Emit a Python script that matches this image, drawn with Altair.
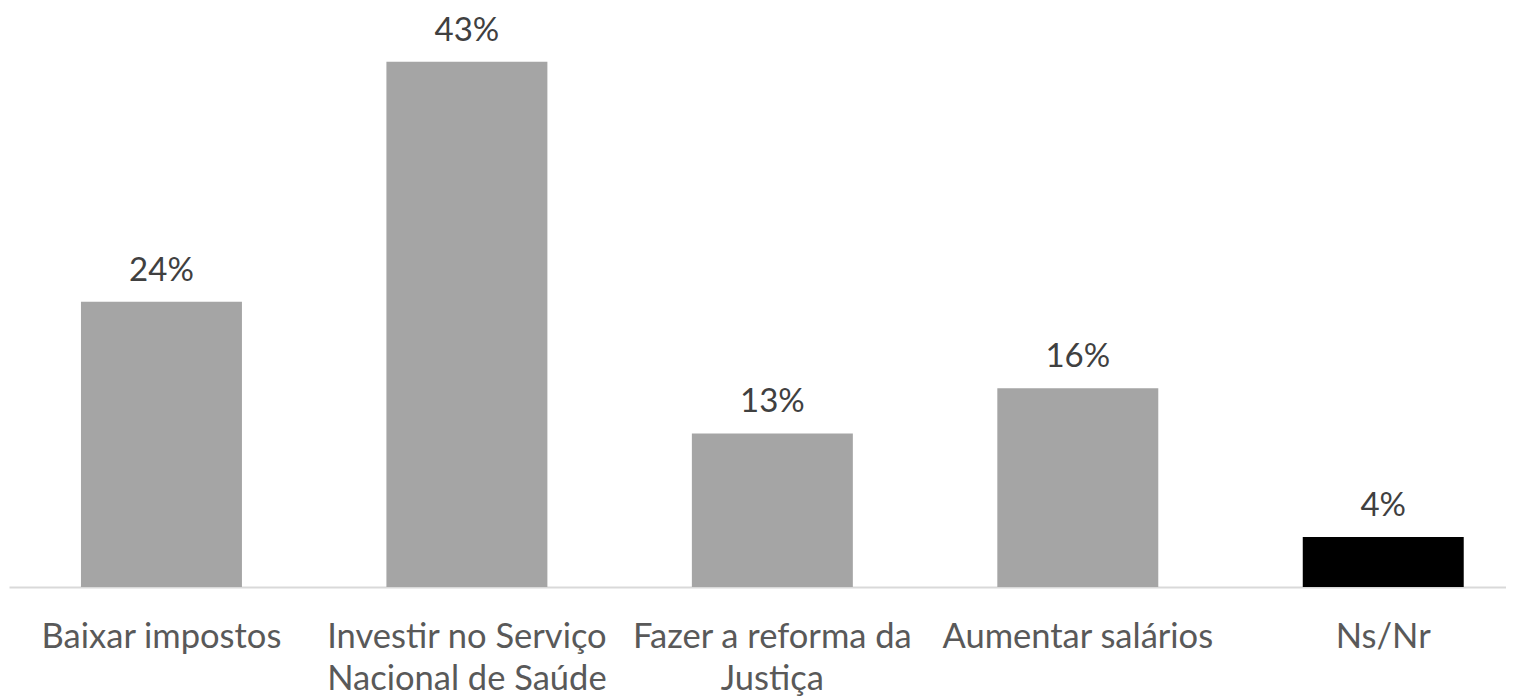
import altair as alt
import pandas as pd

categories = ["Baixar impostos", "Investir no Serviço|Nacional de Saúde", "Fazer a reforma da|Justiça", "Aumentar salários", "Ns/Nr"]
values = [0.234, 0.431, 0.126, 0.163, 0.041]
labels = ["24%", "43%", "13%", "16%", "4%"]
groups = ["main", "main", "main", "main", "nsnr"]

df = pd.DataFrame({"cat": categories, "value": values, "label": labels, "group": groups})

FONT = "Lato"

x = alt.X("cat:N", sort=categories, title=None,
          scale=alt.Scale(paddingInner=0.473, paddingOuter=0.187, align=0.63),
          axis=alt.Axis(labelExpr="split(datum.label, '|')", labelAngle=0, labelFontSize=34.5,
                        labelFont=FONT, labelColor="#595959", labelPadding=33,
                        labelLineHeight=42, labelLimit=1000, labelOverlap=False,
                        ticks=False, domainColor="#D9D9D9", domainWidth=2,
                        labelBaseline="top"))
y = alt.Y("value:Q", scale=alt.Scale(domain=[0, 0.475]), axis=None)

bars = alt.Chart(df).mark_bar().encode(
    x=x, y=y,
    color=alt.Color("group:N", scale=alt.Scale(domain=["main", "nsnr"], range=["#A5A5A5", "#000000"]), legend=None),
)
text = alt.Chart(df).mark_text(baseline="alphabetic", dy=-21, fontSize=33, font=FONT, color="#404040").encode(
    x=alt.X("cat:N", sort=categories), y=y, text="label:N"
)

chart = (bars + text).properties(
    width=1497, height=579,
    padding={"left": 1, "top": 0, "right": 0, "bottom": 0},
).configure_view(stroke=None).configure_axis(grid=False)

chart.save("out.html", embed_options={"renderer": "svg", "actions": False})
